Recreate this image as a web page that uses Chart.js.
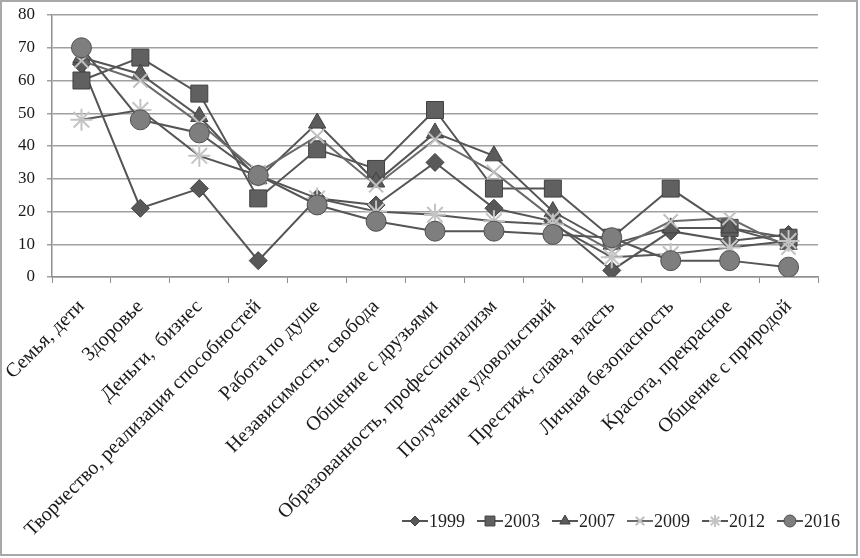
<!DOCTYPE html>
<html>
<head>
<meta charset="utf-8">
<script src="https://cdn.jsdelivr.net/npm/chart.js@4/dist/chart.umd.min.js"></script>
<style>
  html, body { margin: 0; padding: 0; background: #fff; }
  #wrap { width: 860px; height: 558px; position: relative; }
</style>
</head>
<body>
<div id="wrap"><canvas id="valuesChart" width="860" height="558"></canvas></div>
<script>
const categories = [
    'Семья, дети',
    'Здоровье',
    'Деньги,  бизнес',
    'Творчество, реализация способностей',
    'Работа по душе',
    'Независимость, свобода',
    'Общение с друзьями',
    'Образованность, профессионализм',
    'Получение удовольствий',
    'Престиж, слава, власть',
    'Личная безопасность',
    'Красота, прекрасное',
    'Общение с природой',
];

const years = ['1999', '2003', '2007', '2009', '2012', '2016'];

const values1999 = [65, 21, 27, 5, 24, 22, 35, 21, 17, 2, 14, 11, 13];
const values2003 = [60, 67, 56, 24, 39, 33, 51, 27, 27, 12, 27, 15, 12];
const values2007 = [67, 62, 49, 30, 47, 29, 44, 37, 20, 10, 15, 15, 10];
const values2009 = [66, 60, 47, 32, 43, 28, 42, 32, 18, 8, 17, 18, 9];
const values2012 = [48, 51, 37, 31, 24, 20, 19, 17, 16, 6, 7, 9, 11];
const values2016 = [70, 48, 44, 31, 22, 17, 14, 14, 13, 12, 5, 5, 3];

const yTicks = [0, 10, 20, 30, 40, 50, 60, 70, 80];

const serif = '"Liberation Serif", "Times New Roman", serif';

document.addEventListener('DOMContentLoaded', () => {
    const ctx = document.getElementById('valuesChart');

    const makeSeries = (label, data, style, order) => ({
        label: label,
        data: data,
        borderColor: style.line || '#555555',
        borderWidth: 2,
        tension: 0,
        fill: false,
        pointStyle: style.point,
        pointRadius: style.radius,
        pointHoverRadius: style.radius,
        pointBackgroundColor: style.fill,
        pointBorderColor: style.border,
        pointBorderWidth: style.borderWidth || 1,
        order: order,
    });

    const datasets = [
        makeSeries(years[0], values1999, { point: 'rectRot', radius: 9, fill: '#585858', border: '#404040' }, 6),
        makeSeries(years[1], values2003, { point: 'rect', radius: 12, fill: '#606060', border: '#404040' }, 5),
        makeSeries(years[2], values2007, { point: 'triangle', radius: 10, fill: '#5c5c5c', border: '#404040' }, 4),
        makeSeries(years[3], values2009, { point: 'crossRot', radius: 10, fill: '#bdbdbd', border: '#c0c0c0', borderWidth: 2, line: '#6a6a6a' }, 3),
        makeSeries(years[4], values2012, { point: 'star', radius: 11, fill: '#bdbdbd', border: '#c4c4c4', borderWidth: 2 }, 2),
        makeSeries(years[5], values2016, { point: 'circle', radius: 10, fill: '#7e7e7e', border: '#505050' }, 1),
    ];

    const frameAndLegend = {
        id: 'frameAndLegend',
        beforeDraw(chart) {
            const c = chart.ctx;
            c.save();
            c.fillStyle = '#ffffff';
            c.fillRect(0, 0, chart.width, chart.height);
            c.restore();
        },
        afterDraw(chart) {
            const c = chart.ctx;
            c.save();
            c.strokeStyle = '#a8a8a8';
            c.lineWidth = 2;
            c.strokeRect(1, 1, chart.width - 4, chart.height - 4);

            const startX = 402;
            const y = 521;
            const step = 75;
            c.font = '18px ' + serif;
            c.textBaseline = 'middle';
            c.fillStyle = '#222222';
            chart.data.datasets.forEach((ds, i) => {
                const x = startX + i * step;
                c.strokeStyle = ds.borderColor;
                c.lineWidth = 2;
                c.beginPath();
                c.moveTo(x, y);
                c.lineTo(x + 26, y);
                c.stroke();
                c.fillStyle = ds.pointBackgroundColor;
                c.strokeStyle = ds.pointBorderColor;
                c.lineWidth = ds.pointBorderWidth;
                Chart.helpers.drawPoint(c, {
                    pointStyle: ds.pointStyle,
                    radius: Math.round(ds.pointRadius * 0.55),
                    rotation: 0,
                    borderWidth: ds.pointBorderWidth,
                }, x + 13, y);
                c.fillStyle = '#222222';
                c.fillText(ds.label, x + 27, y + 1);
            });
            c.restore();
        },
    };

    new Chart(ctx, {
        type: 'line',
        data: {
            labels: categories,
            datasets: datasets,
        },
        options: {
            responsive: false,
            animation: false,
            layout: {
                padding: { top: 15, right: 42, left: 0, bottom: 0 },
            },
            plugins: {
                legend: { display: false },
                tooltip: { enabled: false },
            },
            scales: {
                x: {
                    offset: true,
                    afterFit: (axis) => {
                        // plot bottom at y = 277, rotated first label may overhang the left edge
                        axis.height = 281;
                        axis.paddingLeft = 0;
                        axis.paddingRight = 0;
                    },
                    grid: {
                        offset: true,
                        drawOnChartArea: false,
                        color: '#909090',
                        tickLength: 6,
                    },
                    border: { color: '#909090', width: 1.5 },
                    ticks: {
                        autoSkip: false,
                        minRotation: 45,
                        maxRotation: 45,
                        color: '#1a1a1a',
                        padding: 12,
                        font: { family: serif, size: 20 },
                    },
                },
                y: {
                    min: 0,
                    max: 80,
                    afterFit: (axis) => {
                        axis.width = 52;
                        axis.paddingTop = 0;
                        axis.paddingBottom = 0;
                    },
                    afterBuildTicks: (axis) => {
                        axis.ticks = yTicks.map((v) => ({ value: v }));
                    },
                    grid: {
                        color: '#a0a0a0',
                        lineWidth: 1.5,
                        tickLength: 5,
                    },
                    border: { color: '#909090', width: 1.5 },
                    ticks: {
                        color: '#1a1a1a',
                        padding: 12,
                        font: { family: serif, size: 17 },
                    },
                },
            },
        },
        plugins: [frameAndLegend],
    });
});
</script>
</body>
</html>
